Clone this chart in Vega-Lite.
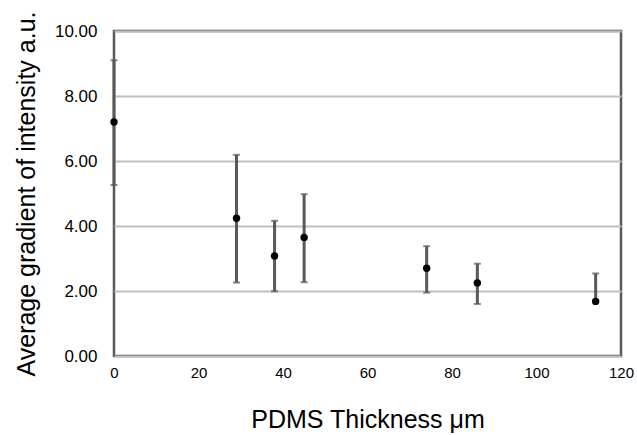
{
  "$schema": "https://vega.github.io/schema/vega-lite/v6.json",
  "width": 507,
  "height": 325,
  "autosize": {"type": "none"},
  "padding": {"left": 114, "top": 31, "right": 16, "bottom": 79},
  "background": "white",
  "config": {
    "view": {"stroke": "#595959", "strokeWidth": 2.5},
    "axis": {"domain": false, "ticks": false, "labelFont": "Liberation Sans", "labelColor": "#000", "titleFont": "Liberation Sans", "titleFontWeight": "normal", "titleColor": "#000"}
  },
  "data": {
    "values": [
      {"x": 0, "y": 7.2, "lo": 5.26, "hi": 9.1},
      {"x": 29, "y": 4.24, "lo": 2.26, "hi": 6.19},
      {"x": 38, "y": 3.08, "lo": 1.99, "hi": 4.16},
      {"x": 45, "y": 3.65, "lo": 2.27, "hi": 4.98},
      {"x": 74, "y": 2.7, "lo": 1.95, "hi": 3.38},
      {"x": 86, "y": 2.25, "lo": 1.6, "hi": 2.84},
      {"x": 114, "y": 1.68, "lo": 1.7, "hi": 2.54}
    ]
  },
  "layer": [
    {
      "mark": {"type": "rule", "color": "#595959", "strokeWidth": 3, "clip": false},
      "encoding": {
        "x": {"field": "x", "type": "quantitative", "scale": {"domain": [0, 120], "nice": false},
          "axis": {"values": [0, 20, 40, 60, 80, 100, 120], "grid": false, "labelFontSize": 15, "labelPadding": 9, "title": "PDMS Thickness μm", "titleFontSize": 25, "titlePadding": 27, "labelFlush": false}},
        "y": {"field": "lo", "type": "quantitative", "scale": {"domain": [0, 10], "nice": false},
          "axis": {"values": [0, 2, 4, 6, 8, 10], "format": ".2f", "grid": true, "gridColor": "#bfbfbf", "gridWidth": 2, "labelFontSize": 17, "labelPadding": 17, "title": "Average gradient of intensity a.u.", "titleFontSize": 25, "titlePadding": 15}},
        "y2": {"field": "hi"}
      }
    },
    {
      "mark": {"type": "tick", "orient": "horizontal", "color": "#595959", "thickness": 2, "size": 7, "clip": false},
      "encoding": {
        "x": {"field": "x", "type": "quantitative"},
        "y": {"field": "hi", "type": "quantitative"}
      }
    },
    {
      "mark": {"type": "tick", "orient": "horizontal", "color": "#595959", "thickness": 2, "size": 7, "clip": false},
      "encoding": {
        "x": {"field": "x", "type": "quantitative"},
        "y": {"field": "lo", "type": "quantitative"}
      }
    },
    {
      "mark": {"type": "point", "filled": true, "color": "#000", "opacity": 1, "size": 55, "clip": false},
      "encoding": {
        "x": {"field": "x", "type": "quantitative"},
        "y": {"field": "y", "type": "quantitative"}
      }
    }
  ]
}
